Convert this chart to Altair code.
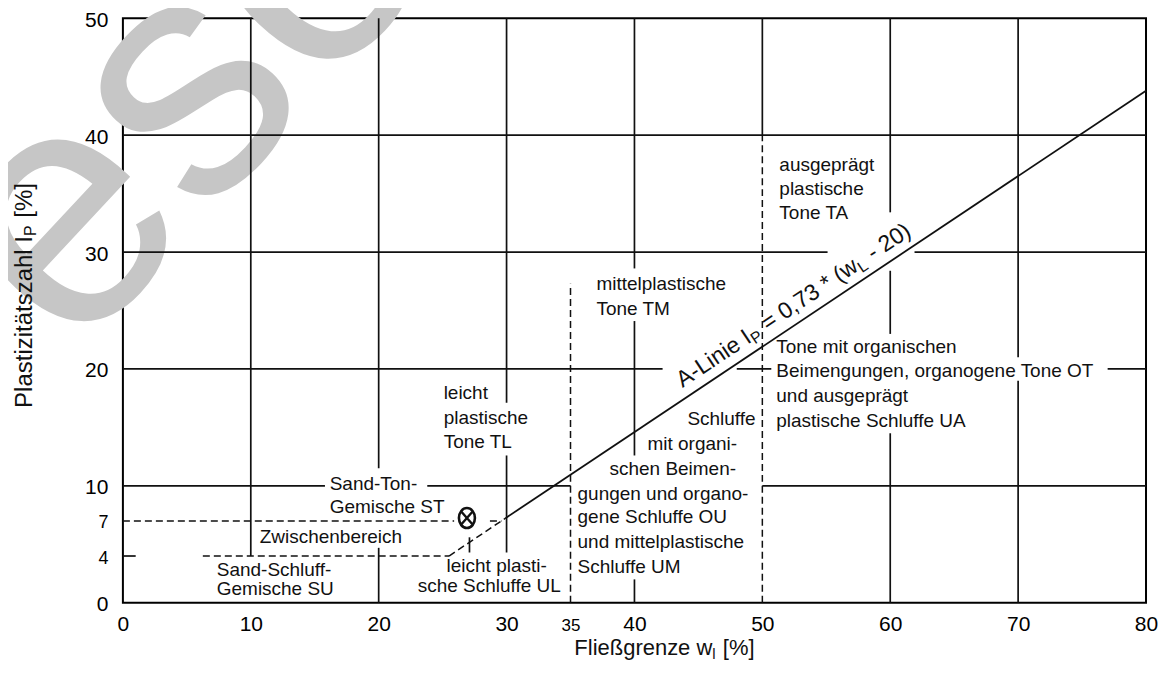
import math
import altair as alt
import pandas as pd

# ---------------- data ----------------
x_ticks = [0, 10, 20, 30, 35, 40, 50, 60, 70, 80]
y_ticks = [0, 4, 7, 10, 20, 30, 40, 50]

# A-Linie  Ip = 0.73 * (wL - 20): endpoints
a_solid_x = [30, 80]
a_solid_y = [7.3, 43.8]
a_dash_x = [25.5, 30]
a_dash_y = [4.0, 7.3]

# solid grid pieces (gaps where the scanned chart leaves room for text)
solid_x1 = [10, 20, 20, 30, 30, 40, 40, 40, 50, 60, 60, 60, 70, 70,
            0, 23.8, 50, 0, 48, 77, 0, 61.9, 0, 0, 27.1]
solid_y1 = [4, 11.5, 0, 17.1, 4.3, 28.6, 12.6, 0, 40, 33.4, 23.0, 0, 21.0, 0,
            10, 10, 10, 20, 20, 20, 30, 30, 40, 4, 4.3]
solid_x2 = [10, 20, 20, 30, 30, 40, 40, 40, 50, 60, 60, 60, 70, 70,
            15.8, 35, 80, 42.2, 50.7, 80, 55.1, 80, 80, 1.0, 27.1]
solid_y2 = [50, 50, 4.7, 50, 12.6, 50, 24.1, 2.0, 50, 50, 28.4, 14.5, 50, 19.0,
            10, 10, 10, 20, 20, 20, 30, 30, 40, 4, 5.6]

# dashed boundaries
dash_x1 = [0, 28.7, 6.25, 35, 50]
dash_y1 = [7, 7, 4, 0, 0]
dash_x2 = [25.9, 29.6, 25.5, 35, 50]
dash_y2 = [7, 7, 4, 27.3, 40]

# sample point (circle with cross)
point_x = [26.9]
point_y = [7.25]

# region labels
ann_text = ["Sand-Ton-", "Gemische ST", "Zwischenbereich", "Sand-Schluff-", "Gemische SU",
            "leicht plasti-", "sche Schluffe UL",
            "mittelplastische", "Tone TM",
            "leicht", "plastische", "Tone TL",
            "Schluffe", "mit organi-", "schen Beimen-", "gungen und organo-",
            "gene Schluffe OU", "und mittelplastische", "Schluffe UM",
            "Tone mit organischen", "Beimengungen, organogene Tone OT",
            "und ausgeprägt", "plastische Schluffe UA",
            "ausgeprägt", "plastische", "Tone TA"]
ann_x = [16.17, 16.17, 10.70, 7.34, 7.34,
         25.31, 23.05,
         37.03, 37.03,
         25.08, 25.08, 25.08,
         44.14, 41.02, 38.05, 35.55,
         35.55, 35.55, 35.55,
         51.09, 51.09,
         51.09, 51.09,
         51.33, 51.33, 51.33]
ann_y = [9.66, 7.69, 5.13, 2.31, 0.68,
         2.65, 0.94,
         26.75, 24.62,
         17.44, 15.30, 13.25,
         15.21, 13.08, 10.94, 8.80,
         6.84, 4.70, 2.56,
         21.37, 19.32,
         17.18, 15.04,
         36.92, 34.87, 32.82]

# ---------------- layout ----------------
W, H = 1024, 585
PX = W / 80.0
PY = H / 50.0
FONT = "Liberation Sans"

# Arial / Liberation Sans advance widths (1/1000 em) for building sub-scripted labels
CW = {' ': 278, '-': 333, '=': 584, ',': 278, '*': 389, '(': 333, ')': 333, '[': 278,
      ']': 278, '%': 889, 'A': 667, 'L': 556, 'I': 278, 'P': 667, 'F': 611, 'a': 556, 'e': 556,
      'g': 556, 'h': 556, 'i': 222, 'l': 222, 'n': 556, 'r': 333, 's': 500, 't': 278, 'w': 722,
      'z': 500, 'ß': 611, 'ä': 556, '0': 556, '2': 556, '3': 556, '7': 556}


def tw(s, fs):
    return sum(CW.get(c, 556) for c in s) / 1000.0 * fs


def place(pieces, start, theta, perp):
    """pieces: (text, fontsize, is_sub); start in data units; theta ccw degrees."""
    t = math.radians(theta)
    ux, uy = math.cos(t), -math.sin(t)
    nx, ny = -math.sin(t), -math.cos(t)
    rows, cum = [], 0.0
    for txt, fs, sub in pieces:
        stripped = txt.lstrip(" ")
        cum += tw(txt[:len(txt) - len(stripped)], fs)   # leading blanks are dropped by SVG
        off = perp - (4 if sub else 0)
        sx = cum * ux + off * nx
        sy = cum * uy + off * ny
        rows.append({"t": stripped, "x": start[0] + sx / PX, "y": start[1] - sy / PY,
                     "fs": fs, "ang": (360 - theta) % 360})
        cum += tw(stripped, fs) + (1 if sub else 0)
    return rows


a_theta = math.degrees(math.atan2(0.73 * PY, PX))
rich = []
rich += place([("A-Linie I", 23, False), ("P", 16, True), (" = 0,73 * (w", 23, False),
               ("L", 16, True), (" - 20)", 23, False)], (44.2, 17.66), a_theta, 10)
rich += place([("Fließgrenze w", 22, False), ("l", 15, True), (" [%]", 22, False)],
              (35.3, -4.45), 0, 0)
rich += place([("Plastizitätszahl I", 24, False), ("P", 16, True), (" [%]", 24, False)],
              (-7.11, 16.67), 90, 0)
rich_df = pd.DataFrame(rich)

xs = alt.Scale(domain=[0, 80], nice=False, zero=False)
ys = alt.Scale(domain=[0, 50], nice=False, zero=False)

xaxis = alt.Axis(values=x_ticks, title=None, grid=False, ticks=False, domain=False,
                 labelFont=FONT, labelColor="black", labelPadding=28, labelBaseline="alphabetic",
                 labelFlush=False, labelOverlap=False,
                 labelFontSize={"condition": {"test": "datum.value == 35", "value": 17}, "value": 21})
yaxis = alt.Axis(values=y_ticks, title=None, grid=False, ticks=False, domain=False,
                 labelFont=FONT, labelColor="black", labelPadding=15,
                 labelFlush=False, labelOverlap=False, labelOffset=2,
                 labelFontSize={"condition": {"test": "datum.value == 4 || datum.value == 7", "value": 18},
                                "value": 21})


def X(f="x:Q"):
    return alt.X(f, scale=xs, axis=xaxis)


def Y(f="y:Q"):
    return alt.Y(f, scale=ys, axis=yaxis)


# watermark (light grey letters in the upper left)
wm = alt.Chart(pd.DataFrame({"t": ["ese"], "x": [-3.93], "y": [20.7]})).mark_text(
    align="left", baseline="alphabetic", font=FONT, fontSize=340, angle=313, color="#c6c6c6"
).encode(x=X(), y=Y(), text="t:N")

solid_df = pd.DataFrame({"x": solid_x1, "y": solid_y1, "x2": solid_x2, "y2": solid_y2})
solid = alt.Chart(solid_df).mark_rule(color="#111", strokeWidth=1.7).encode(
    x=X(), y=Y(), x2="x2:Q", y2="y2:Q")

dash_df = pd.DataFrame({"x": dash_x1 + [a_dash_x[0]], "y": dash_y1 + [a_dash_y[0]],
                        "x2": dash_x2 + [a_dash_x[1]], "y2": dash_y2 + [a_dash_y[1]]})
dashed = alt.Chart(dash_df).mark_rule(color="#111", strokeWidth=1.5, strokeDash=[7, 4]).encode(
    x=X(), y=Y(), x2="x2:Q", y2="y2:Q")

aline_df = pd.DataFrame({"x": [a_solid_x[0]], "y": [a_solid_y[0]], "x2": [a_solid_x[1]], "y2": [a_solid_y[1]]})
aline = alt.Chart(aline_df).mark_rule(color="#111", strokeWidth=1.8).encode(
    x=X(), y=Y(), x2="x2:Q", y2="y2:Q")

pt_df = pd.DataFrame({"x": point_x, "y": point_y})
ellipse = alt.Chart(pt_df).mark_point(
    shape="M0,-1A0.8,1,0,1,1,0,1A0.8,1,0,1,1,0,-1Z", size=400, filled=False,
    color="#111", strokeWidth=2.6, opacity=1
).encode(x=X(), y=Y())
cross = alt.Chart(pt_df).mark_point(
    shape="M-0.55,-0.62L0.55,0.62M-0.55,0.62L0.55,-0.62", size=400, filled=False,
    color="#111", strokeWidth=2.4, opacity=1
).encode(x=X(), y=Y())

ann_df = pd.DataFrame({"t": ann_text, "x": ann_x, "y": ann_y})
ann = alt.Chart(ann_df).mark_text(align="left", baseline="alphabetic", font=FONT, fontSize=19,
                                   color="#111").encode(x=X(), y=Y(), text="t:N")

rich_layer = alt.Chart(rich_df).mark_text(align="left", baseline="alphabetic", font=FONT,
                                          color="#111").encode(
    x=X(), y=Y(), text="t:N",
    size=alt.Size("fs:Q", scale=None), angle=alt.Angle("ang:Q", scale=None))

chart = alt.layer(wm, solid, dashed, aline, ellipse, cross, ann, rich_layer).properties(
    width=W, height=H,
    padding={"left": 115, "top": 10, "right": 12, "bottom": 60},
    autosize=alt.AutoSizeParams(type="none"),
    background="white",
).configure_view(stroke="black", strokeWidth=2)

chart.save("out.html", embed_options={"renderer": "svg", "actions": False})
